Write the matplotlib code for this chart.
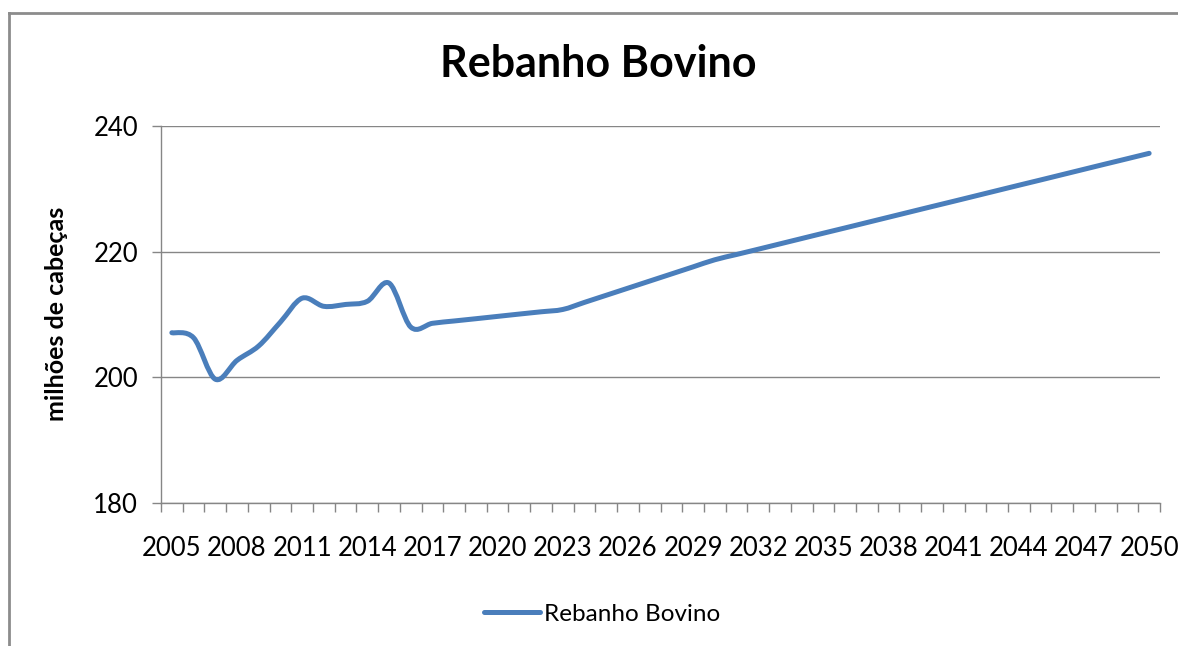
import numpy as np
import matplotlib
matplotlib.use("Agg")
import matplotlib.pyplot as plt
from matplotlib.path import Path
from matplotlib.patches import PathPatch
from matplotlib.lines import Line2D

plt.rcParams['font.family'] = ['Lato', 'DejaVu Sans']

# --- Data: cattle herd (millions of head), 2005-2050 ---
years = list(range(2005, 2051))
herd = [
    207.10, 206.30, 199.70, 202.70, 205.00, 208.80, 212.60, 211.30, 211.60, 212.10,
    215.00, 208.00, 208.60, 208.97, 209.33, 209.70, 210.07, 210.43, 210.80, 211.93,
    213.06, 214.19, 215.32, 216.45, 217.58, 218.71, 219.55, 220.39, 221.24, 222.09,
    222.94, 223.78, 224.63, 225.48, 226.33, 227.18, 228.02, 228.87, 229.72, 230.57,
    231.41, 232.26, 233.11, 233.96, 234.80, 235.65,
]
series_name = "Rebanho Bovino"
title = "Rebanho Bovino"
y_label = "milhões de cabeças"
y_ticks = [180, 200, 220, 240]
label_step = 3

LINE_COLOR = "#4A7EBB"
GRID_COLOR = "#868686"


def smooth_path(xs, ys):
    """Excel-style smoothed line: Catmull-Rom segments as cubic Beziers."""
    pts = np.column_stack([xs, ys]).astype(float)
    ext = np.vstack([pts[0], pts, pts[-1]])
    verts = [pts[0]]
    codes = [Path.MOVETO]
    for i in range(len(pts) - 1):
        p0, p1, p2, p3 = ext[i], ext[i + 1], ext[i + 2], ext[i + 3]
        c1 = p1 + (p2 - p0) / 6.0
        c2 = p2 - (p3 - p1) / 6.0
        verts += [c1, c2, p2]
        codes += [Path.CURVE4] * 3
    return Path(verts, codes)


fig = plt.figure(figsize=(11.78, 6.46), dpi=100)
W, H = 1178, 646
ax = fig.add_axes([161 / W, 1 - 503 / H, 999 / W, 377 / H])

x = np.arange(len(years))
patch = PathPatch(smooth_path(x, herd), fill=False, edgecolor=LINE_COLOR,
                  linewidth=3.6, capstyle='round', joinstyle='round', zorder=3)
ax.add_patch(patch)

ax.set_xlim(-0.5, len(years) - 0.5)
ax.set_ylim(y_ticks[0], y_ticks[-1])

# tick marks sit between categories, labels every third year
ax.set_xticks(np.arange(len(years) + 1) - 0.5)
ax.set_xticklabels([])
ax.set_xticks(x[::label_step], minor=True)
ax.set_xticklabels([str(y) for y in years[::label_step]], minor=True)
ax.tick_params(axis='x', which='major', direction='out', length=6.5,
               width=1, color=GRID_COLOR)
ax.tick_params(axis='x', which='minor', length=0, pad=24, labelsize=18.5)

ax.set_yticks(y_ticks)
ax.tick_params(axis='y', direction='out', length=6.5, width=1,
               color=GRID_COLOR, pad=10, labelsize=18.5)

ax.grid(axis='y', color=GRID_COLOR, linewidth=1)
ax.set_axisbelow(True)
for side in ('top', 'right'):
    ax.spines[side].set_visible(False)
for side in ('left', 'bottom'):
    ax.spines[side].set_color(GRID_COLOR)
    ax.spines[side].set_linewidth(1)

fig.text(57 / W, 1 - 314 / H, y_label, rotation=90, ha='center', va='center',
         fontsize=18, fontweight='bold')

fig.text(598 / W, 1 - 64 / H, title, ha='center', va='center',
         fontsize=31, fontweight='bold')

handle = Line2D([], [], color=LINE_COLOR, linewidth=3.6, solid_capstyle='round')
fig.legend([handle], [series_name], loc='center', bbox_to_anchor=(602 / W, 1 - 614 / H),
           frameon=False, fontsize=17.5, handlelength=2.3, handletextpad=0.15)

# chart area border (left and top edges are inside the image)
fig.add_artist(Line2D([9 / W, 9 / W], [0, 1 - 13 / H], color="#8C8C8C", linewidth=2))
fig.add_artist(Line2D([9 / W, 1], [1 - 13 / H, 1 - 13 / H], color="#8C8C8C", linewidth=2))

fig.savefig("out.png", dpi=100, facecolor='white')
